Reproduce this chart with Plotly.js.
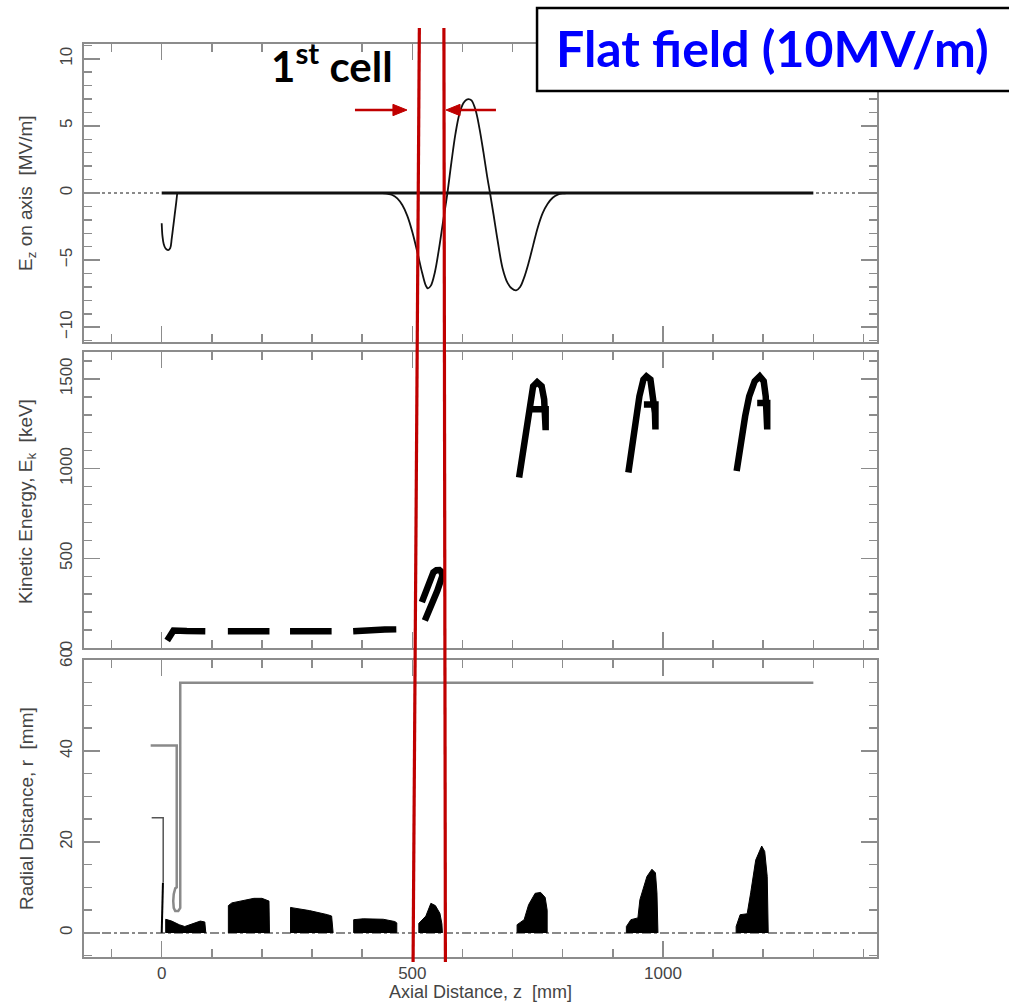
<!DOCTYPE html>
<html>
<head>
<meta charset="utf-8">
<script src="https://cdn.plot.ly/plotly-3.0.1.min.js"></script>
<style>html,body{margin:0;padding:0;background:#fff;}#chart{width:1009px;height:1004px;}</style>
</head>
<body>
<div id="chart"></div>
<script>
// ---------- axis ranges ----------
const zRange = [-155, 1427];
const ezRange = [-11.1, 11.1];
const keRange = [0, 1650];
const rRange = [-5.3, 60];

// ---------- top panel: Ez on axis [MV/m] ----------
const ezAxisZ = [-155, 1427];
const ezAxisV = [0, 0];
const ezBaseZ = [0, 1300];
const ezBaseV = [0, 0];
const ezInjZ = [0, 1.5, 4, 8, 13, 17, 20, 23, 26, 29, 31];
const ezInjV = [-2.25, -3.2, -3.8, -4.15, -4.25, -4.1, -3.4, -2.5, -1.6, -0.7, 0];
const ezCavZ = [440, 450, 460, 470, 480, 490, 500, 510, 520, 527, 531, 537, 545, 553, 561, 570,
                578, 586, 594, 602, 608, 612, 618, 626, 634, 642, 649, 655,
                662, 670, 680, 690, 698, 707, 715, 723, 732, 741, 750, 760, 770, 780, 790, 800, 808];
const ezCavV = [0, -0.05, -0.15, -0.4, -0.9, -1.7, -2.9, -4.4, -6.0, -6.9, -7.1, -6.9, -5.9, -4.2, -2.2, 0,
                2.3, 4.4, 5.9, 6.7, 6.95, 7.0, 6.9, 6.2, 4.8, 3.0, 1.3, 0,
                -1.6, -3.5, -5.6, -6.7, -7.1, -7.25, -7.0, -6.3, -5.2, -3.9, -2.6, -1.5, -0.8, -0.35, -0.12, -0.03, 0];

// ---------- middle panel: kinetic energy [keV] ----------
const keB1Z = [11, 17, 23.5, 50, 87];      const keB1E = [42, 75, 98, 95, 94];
const keB2Z = [132, 170, 215];             const keB2E = [94, 94, 94];
const keB3Z = [256, 300, 339];             const keB3E = [94, 94, 94];
const keB4Z = [382, 410, 425, 445, 468];   const keB4E = [94, 94, 100, 103, 104];
const keB5Z = [519, 530, 542, 548, 554, 558, 560, 550, 538, 525];
const keB5E = [256, 340, 422, 434, 435, 425, 403, 320, 230, 153];
const keB6Z = [713, 721, 728, 735, 741, 749, 758, 763, 765, 766, 766, 738];
const keB6E = [950, 1107, 1237, 1385, 1459, 1481, 1459, 1385, 1311, 1214, 1330, 1330];
const keB7Z = [931, 938, 944, 953, 961, 967, 975, 981, 984, 985, 985, 962];
const keB7E = [978, 1126, 1256, 1403, 1496, 1514, 1496, 1403, 1311, 1218, 1357, 1357];
const keB8Z = [1147, 1154, 1164, 1172, 1183, 1193, 1201, 1205, 1207, 1208, 1208, 1188];
const keB8E = [987, 1126, 1292, 1403, 1487, 1514, 1487, 1403, 1311, 1218, 1366, 1366];

// ---------- bottom panel: radial distance [mm] ----------
const rAxisZ = [-155, 1427];
const rAxisR = [0, 0];
const wall1Z = [-20, 3, 3];                 const wall1R = [25.3, 25.3, 11];
const cathZ = [2.5, 0];                     const cathR = [11, 0];
const wall2Z = [-22, 30, 30, 27, 24, 23, 24, 27, 33, 37, 37, 1300];
const wall2R = [41.2, 41.2, 10, 9.8, 8.5, 7, 5.5, 4.8, 4.8, 5.5, 55, 55];
const blob1Z = [8, 8, 20, 35, 46, 60, 70, 77, 86, 88];
const blob1R = [0, 3.0, 2.6, 1.8, 1.4, 1.9, 2.4, 2.6, 2.4, 0];
const blob2Z = [133, 133, 140, 162, 184, 200, 206, 214, 215];
const blob2R = [0, 6.0, 6.6, 7.1, 7.6, 7.6, 7.4, 7.0, 0];
const blob3Z = [257, 257, 262, 295, 331, 339, 342];
const blob3R = [0, 5.6, 5.5, 4.9, 4.0, 3.7, 0];
const blob4Z = [383, 383, 402, 442, 465, 469, 469];
const blob4R = [0, 2.9, 3.1, 3.0, 2.5, 2.2, 0];
const blob5Z = [513, 513, 527, 533, 537, 546, 555, 559, 560];
const blob5R = [0, 2.1, 3.7, 5.5, 6.5, 6.0, 4.3, 2.0, 0];
const blob6Z = [709, 709, 723, 732, 745, 756, 765, 769, 769];
const blob6R = [0, 1.8, 2.9, 6.2, 8.7, 8.9, 7.8, 5.0, 0];
const blob7Z = [927, 927, 936, 950, 954, 968, 978, 985, 988, 990];
const blob7R = [0, 1.4, 2.9, 3.3, 7.3, 12.4, 14.0, 13.2, 8.8, 0];
const blob8Z = [1146, 1146, 1154, 1168, 1175, 1185, 1197, 1203, 1208, 1210];
const blob8R = [0, 1.4, 4.0, 4.2, 8.8, 16.0, 19.1, 17.9, 12.4, 0];

// ---------- first-cell markers (z, mm) ----------
const cellEdgeTopZ = [514, 563];
const cellEdgeBottomZ = [501.5, 566];

// ---------- traces ----------
const traces = [];
const panelTop = {xaxis: 'x3', yaxis: 'y'};
const panelMid = {xaxis: 'x2', yaxis: 'y2'};
const panelBot = {xaxis: 'x', yaxis: 'y3'};

traces.push(Object.assign({x: ezAxisZ, y: ezAxisV, mode: 'lines', line: {color: '#8a8a8a', width: 2, dash: 'dot'}}, panelTop));
traces.push(Object.assign({x: ezBaseZ, y: ezBaseV, mode: 'lines', line: {color: '#111', width: 3}}, panelTop));
traces.push(Object.assign({x: ezInjZ, y: ezInjV, mode: 'lines', line: {color: '#111', width: 1.8, shape: 'spline'}}, panelTop));
traces.push(Object.assign({x: ezCavZ, y: ezCavV, mode: 'lines', line: {color: '#111', width: 1.8, shape: 'spline'}}, panelTop));

[[keB1Z, keB1E], [keB2Z, keB2E], [keB3Z, keB3E], [keB4Z, keB4E], [keB5Z, keB5E],
 [keB6Z, keB6E], [keB7Z, keB7E], [keB8Z, keB8E]].forEach(function (b) {
  traces.push(Object.assign({x: b[0], y: b[1], mode: 'lines', line: {color: '#000', width: 6.5}}, panelMid));
});

traces.push(Object.assign({x: rAxisZ, y: rAxisR, mode: 'lines', line: {color: '#8a8a8a', width: 2, dash: 'dashdot'}}, panelBot));
traces.push(Object.assign({x: wall1Z, y: wall1R, mode: 'lines', line: {color: '#555', width: 1.5}}, panelBot));
traces.push(Object.assign({x: cathZ, y: cathR, mode: 'lines', line: {color: '#000', width: 2}}, panelBot));
traces.push(Object.assign({x: wall2Z, y: wall2R, mode: 'lines', line: {color: '#8a8a8a', width: 2.5}}, panelBot));
[[blob1Z, blob1R], [blob2Z, blob2R], [blob3Z, blob3R], [blob4Z, blob4R],
 [blob5Z, blob5R], [blob6Z, blob6R], [blob7Z, blob7R], [blob8Z, blob8R]].forEach(function (b) {
  traces.push(Object.assign({x: b[0], y: b[1], mode: 'lines', fill: 'toself', fillcolor: '#000',
                             line: {color: '#000', width: 1}}, panelBot));
});

// ---------- layout ----------
const frameCol = '#8c8c8c';
const fontFam = 'Liberation Sans, Arial, sans-serif';
const tickFont = {family: fontFam, size: 17, color: '#444'};
function axisBase(extra) {
  return Object.assign({
    showline: true, linecolor: frameCol, linewidth: 2, mirror: 'allticks',
    ticks: 'inside', ticklen: 16, tickwidth: 1.5, tickcolor: frameCol,
    showgrid: false, zeroline: false, tickfont: tickFont, fixedrange: true
  }, extra);
}
function minorTicks(dt) { return {dtick: dt, ticks: 'inside', ticklen: 8, tickwidth: 1.5, tickcolor: frameCol, showgrid: false}; }

const titleFont = {family: fontFam, size: 19, color: '#444'};
const red = '#c00000';

const layout = {
  width: 1009, height: 1004,
  margin: {l: 84, r: 132, t: 44, b: 47},
  paper_bgcolor: '#fff', plot_bgcolor: '#fff',
  showlegend: false,
  xaxis: axisBase({anchor: 'y3', range: zRange, tickvals: [0, 500, 1000], ticktext: ['0', '500', '1000'], minor: minorTicks(100),
                   tickfont: {family: fontFam, size: 17, color: '#444'}, ticklabelstandoff: 0}),
  xaxis2: axisBase({anchor: 'y2', matches: 'x', range: zRange, tickvals: [0, 500, 1000], showticklabels: false, minor: minorTicks(100)}),
  xaxis3: axisBase({anchor: 'y', matches: 'x', range: zRange, tickvals: [0, 500, 1000], showticklabels: false, minor: minorTicks(100)}),
  yaxis: axisBase({anchor: 'x3', domain: [0.6736, 1], range: ezRange, tickvals: [-10, -5, 0, 5, 10], tickangle: -90, minor: minorTicks(1), ticklabelstandoff: 3}),
  yaxis2: axisBase({anchor: 'x2', domain: [0.3384, 0.6627], range: keRange, tickvals: [0, 500, 1000, 1500], tickangle: -90, minor: minorTicks(100), ticklabelstandoff: 3}),
  yaxis3: axisBase({anchor: 'x', domain: [0, 0.3253], range: rRange, tickvals: [0, 20, 40, 60], tickangle: -90, minor: minorTicks(5), ticklabelstandoff: 3}),
  shapes: [
    {type: 'line', xref: 'x', yref: 'paper', x0: cellEdgeTopZ[0], x1: cellEdgeBottomZ[0], y0: 1.0175, y1: -0.0055,
     line: {color: red, width: 3.2}, layer: 'above'},
    {type: 'line', xref: 'x', yref: 'paper', x0: cellEdgeTopZ[1], x1: cellEdgeBottomZ[1], y0: 1.0175, y1: -0.0055,
     line: {color: red, width: 3.2}, layer: 'above'},
    // arrows pointing at the cell edges
    {type: 'line', xref: 'paper', yref: 'paper', x0: 0.3417, x1: 0.3960, y0: 0.9277, y1: 0.9277, line: {color: red, width: 2.5}, layer: 'above'},
    {type: 'path', xref: 'paper', yref: 'paper', path: 'M 0.4073 0.9277 L 0.3896 0.9339 L 0.3896 0.9215 Z',
     fillcolor: red, line: {color: red, width: 1}, layer: 'above'},
    {type: 'line', xref: 'paper', yref: 'paper', x0: 0.5195, x1: 0.4680, y0: 0.9277, y1: 0.9277, line: {color: red, width: 2.5}, layer: 'above'},
    {type: 'path', xref: 'paper', yref: 'paper', path: 'M 0.4565 0.9277 L 0.4742 0.9339 L 0.4742 0.9215 Z',
     fillcolor: red, line: {color: red, width: 1}, layer: 'above'},
    {type: 'rect', xref: 'paper', yref: 'paper', x0: 0.5713, x1: 1.18, y0: 0.9485, y1: 1.0394,
     line: {color: '#000', width: 2.5}, fillcolor: '#fff', layer: 'above'}
  ],
  annotations: [
    {xref: 'paper', yref: 'paper', x: 0.8676, y: 0.9955, xanchor: 'center', yanchor: 'middle', showarrow: false,
     text: '<b>Flat field (10MV/m)</b>', font: {family: 'Lato, Open Sans, sans-serif', size: 50, color: '#0000ff'}},
    {xref: 'paper', yref: 'paper', x: 0.3127, y: 0.9790, xanchor: 'center', yanchor: 'middle', showarrow: false,
     text: '<b>1<sup>st</sup> cell</b>', font: {family: 'Lato, Open Sans, sans-serif', size: 42, color: '#000'}},
    {xref: 'paper', yref: 'paper', x: -0.0719, y: 0.8368, textangle: -90, showarrow: false, xanchor: 'center', yanchor: 'middle',
     text: 'E<sub>z</sub> on axis  [MV/m]', font: titleFont},
    {xref: 'paper', yref: 'paper', x: -0.0719, y: 0.4995, textangle: -90, showarrow: false, xanchor: 'center', yanchor: 'middle',
     text: 'Kinetic Energy, E<sub>k</sub>  [keV]', font: titleFont},
    {xref: 'paper', yref: 'paper', x: -0.0719, y: 0.1632, textangle: -90, showarrow: false, xanchor: 'center', yanchor: 'middle',
     text: 'Radial Distance, r  [mm]', font: titleFont},
    {xref: 'paper', yref: 'paper', x: 0.5, y: -0.0504, showarrow: false, xanchor: 'center', yanchor: 'bottom', borderpad: 0,
     text: 'Axial Distance, z  [mm]', font: {family: fontFam, size: 18, color: '#444'}}
  ]
};

Plotly.newPlot('chart', traces, layout, {staticPlot: true, displayModeBar: false});
</script>
</body>
</html>
